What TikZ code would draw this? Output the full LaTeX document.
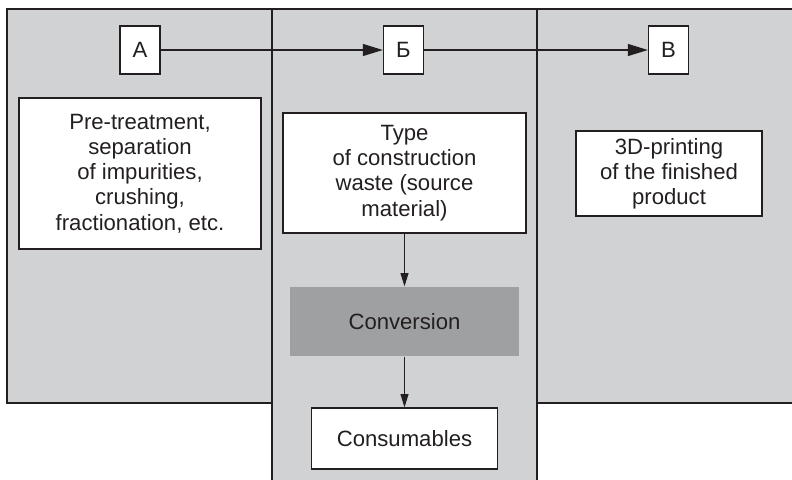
\documentclass[tikz,border=0pt]{standalone}
\usepackage{fontspec}
\setmainfont{Liberation Sans}
\usetikzlibrary{arrows.meta}
\definecolor{panelgray}{RGB}{209,210,212}
\definecolor{convgray}{RGB}{159,160,162}
\definecolor{ink}{RGB}{35,31,32}

\begin{document}
\begin{tikzpicture}[x=0.75pt,y=-0.75pt]
    \tikzstyle{every node}=[draw=ink,fill=white,text=ink,line width=1pt,inner sep=0pt,align=center,font=\fontsize{16.6}{18.9}\selectfont]
    \tikzstyle{letter}=[minimum width=30pt,minimum height=36pt]
    \tikzstyle{panel}=[fill=panelgray,draw=ink,line width=1.6pt]
    \tikzstyle{flow}=[draw=ink,line width=0.9pt,-{Triangle[length=15pt,width=9pt]}]
    \tikzstyle{down}=[draw=ink,line width=0.8pt,-{Triangle[length=10pt,width=6pt]}]
    \useasboundingbox (0,0) rectangle (792,479);
    \begin{scope}
        \clip (0,0) rectangle (792,479);
        \draw[panel] (7,9) rectangle (272,403);
        \draw[panel] (537,9) rectangle (800,403);
        \draw[panel] (272,9) rectangle (537,490);
    \end{scope}
    \node[letter] (a) at (140,50) {А};
    \node[letter] (b) at (403.5,50) {Б};
    \node[letter] (v) at (668.5,50) {В};
    \node[minimum width=181.5pt,minimum height=113.25pt] (pre) at (140,173.5) {Pre-treatment,\\separation\\of impurities,\\crushing,\\fractionation, etc.};
    \node[minimum width=182.25pt,minimum height=90pt] (type) at (404.5,173) {Type\\of construction\\waste (source\\material)};
    \node[minimum width=139.5pt,minimum height=63.75pt] (print) at (669,173.5) {3D-printing\\of the finished\\product};
    \node[draw=none,fill=convgray,minimum width=171.75pt,minimum height=51.75pt] (conv) at (404.5,321.5) {Conversion};
    \node[minimum width=139.5pt,minimum height=45.75pt] (cons) at (404.5,438.5) {Consumables};
    \draw[flow] (a) -- (b);
    \draw[flow] (b) -- (v);
    \draw[down] (type) -- (conv);
    \draw[down] (conv) -- (cons);
\end{tikzpicture}
\end{document}
